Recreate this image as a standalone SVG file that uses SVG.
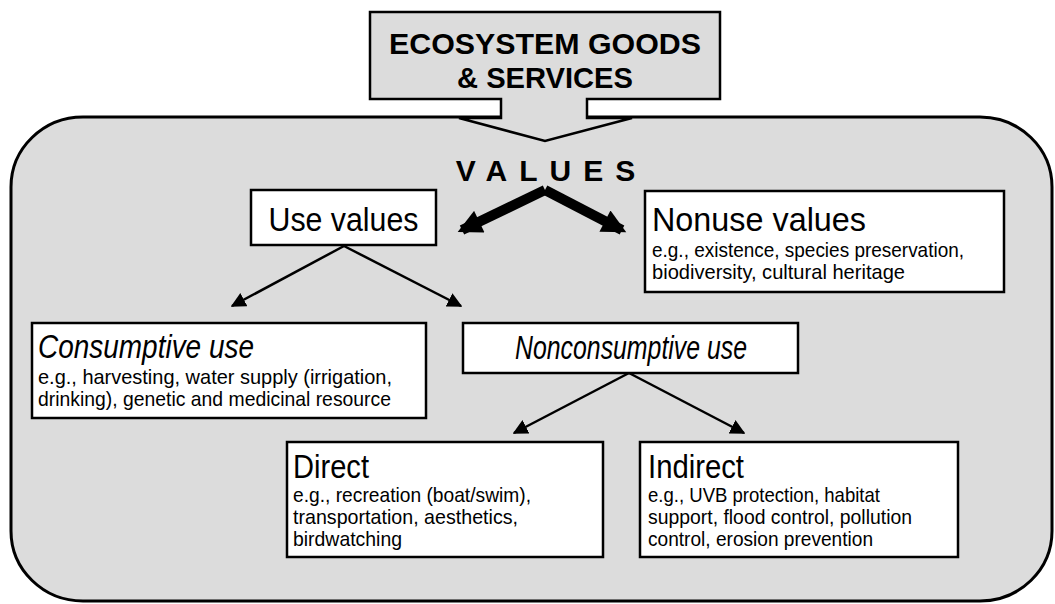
<svg xmlns="http://www.w3.org/2000/svg" width="1055" height="604" viewBox="0 0 1055 604">
<defs>
<style>
.box{fill:#fff;stroke:#000;stroke-width:2.5}
.t{font-family:"Liberation Sans",Arial,sans-serif;fill:#000}
.h{font-size:34px}
.s{font-size:21px}
.i{font-style:italic}
.b{font-weight:bold}
.conn{stroke:#000;stroke-width:2.5;fill:none;marker-end:url(#ah)}
.thick{stroke:#000;stroke-width:10;fill:none;marker-end:url(#bh)}
</style>
<marker id="ah" viewBox="0 0 10 10" refX="9" refY="5" markerWidth="6" markerHeight="6" markerUnits="strokeWidth" orient="auto">
<path d="M0,0 L10,5 L0,10 Z" fill="#000"/>
</marker>
<marker id="bh" viewBox="0 0 10 10" refX="8" refY="5" markerWidth="2.6" markerHeight="2.4" markerUnits="strokeWidth" orient="auto">
<path d="M0,0 L10,5 L0,10 Z" fill="#000"/>
</marker>
</defs>
<g id="container">
<rect x="11" y="117" width="1041" height="484" rx="72" ry="70" fill="#dcdcdc" stroke="#000" stroke-width="3"/>
</g>
<g id="ecosystem">
<path d="M370,12 H720 V99 H587 V118 H632 L545,141 L459,118 H501 V99 H370 Z" fill="#dcdcdc" stroke="#000" stroke-width="2.5" stroke-linejoin="miter"/>
<text class="t b" x="545" y="54" font-size="30" text-anchor="middle" textLength="312" lengthAdjust="spacingAndGlyphs">ECOSYSTEM GOODS</text>
<text class="t b" x="545" y="88" font-size="30" text-anchor="middle" textLength="176" lengthAdjust="spacingAndGlyphs">&amp; SERVICES</text>
</g>
<g id="values">
<text class="t b" x="551.5" y="181" font-size="30" text-anchor="middle" letter-spacing="12">VALUES</text>
</g>
<g id="connectors">
<line class="thick" x1="545" y1="190" x2="462" y2="230"/>
<line class="thick" x1="545" y1="190" x2="622" y2="230"/>
<line class="conn" x1="344" y1="246" x2="232" y2="306"/>
<line class="conn" x1="344" y1="246" x2="461" y2="306"/>
<line class="conn" x1="629" y1="373" x2="514" y2="433"/>
<line class="conn" x1="629" y1="373" x2="744" y2="433"/>
</g>
<g id="use-values">
<rect class="box" x="251" y="190" width="185" height="55"/>
<text class="t h" x="343.5" y="231" text-anchor="middle" textLength="150" lengthAdjust="spacingAndGlyphs">Use values</text>
</g>
<g id="nonuse-values">
<rect class="box" x="645" y="191" width="359" height="101"/>
<text class="t h" x="652" y="231" textLength="214" lengthAdjust="spacingAndGlyphs">Nonuse values</text>
<text class="t s" x="652" y="257" textLength="312" lengthAdjust="spacingAndGlyphs">e.g., existence, species preservation,</text>
<text class="t s" x="652" y="279" textLength="253" lengthAdjust="spacingAndGlyphs">biodiversity, cultural heritage</text>
</g>
<g id="consumptive">
<rect class="box" x="32" y="323" width="394" height="95"/>
<text class="t h i" x="38" y="358" textLength="216" lengthAdjust="spacingAndGlyphs">Consumptive use</text>
<text class="t s" x="38" y="384" textLength="354" lengthAdjust="spacingAndGlyphs">e.g., harvesting, water supply (irrigation,</text>
<text class="t s" x="38" y="406" textLength="353" lengthAdjust="spacingAndGlyphs">drinking), genetic and medicinal resource</text>
</g>
<g id="nonconsumptive">
<rect class="box" x="463" y="323" width="335" height="50"/>
<text class="t h i" x="631" y="359" text-anchor="middle" textLength="232" lengthAdjust="spacingAndGlyphs">Nonconsumptive use</text>
</g>
<g id="direct">
<rect class="box" x="287" y="442" width="316" height="115"/>
<text class="t h" x="293" y="478" textLength="76" lengthAdjust="spacingAndGlyphs">Direct</text>
<text class="t s" x="293" y="502" textLength="238" lengthAdjust="spacingAndGlyphs">e.g., recreation (boat/swim),</text>
<text class="t s" x="293" y="524" textLength="225" lengthAdjust="spacingAndGlyphs">transportation, aesthetics,</text>
<text class="t s" x="293" y="546" textLength="109" lengthAdjust="spacingAndGlyphs">birdwatching</text>
</g>
<g id="indirect">
<rect class="box" x="640" y="442" width="318" height="115"/>
<text class="t h" x="648" y="478" textLength="96" lengthAdjust="spacingAndGlyphs">Indirect</text>
<text class="t s" x="648" y="502" textLength="232" lengthAdjust="spacingAndGlyphs">e.g., UVB protection, habitat</text>
<text class="t s" x="648" y="524" textLength="264" lengthAdjust="spacingAndGlyphs">support, flood control, pollution</text>
<text class="t s" x="648" y="546" textLength="225" lengthAdjust="spacingAndGlyphs">control, erosion prevention</text>
</g>
</svg>
